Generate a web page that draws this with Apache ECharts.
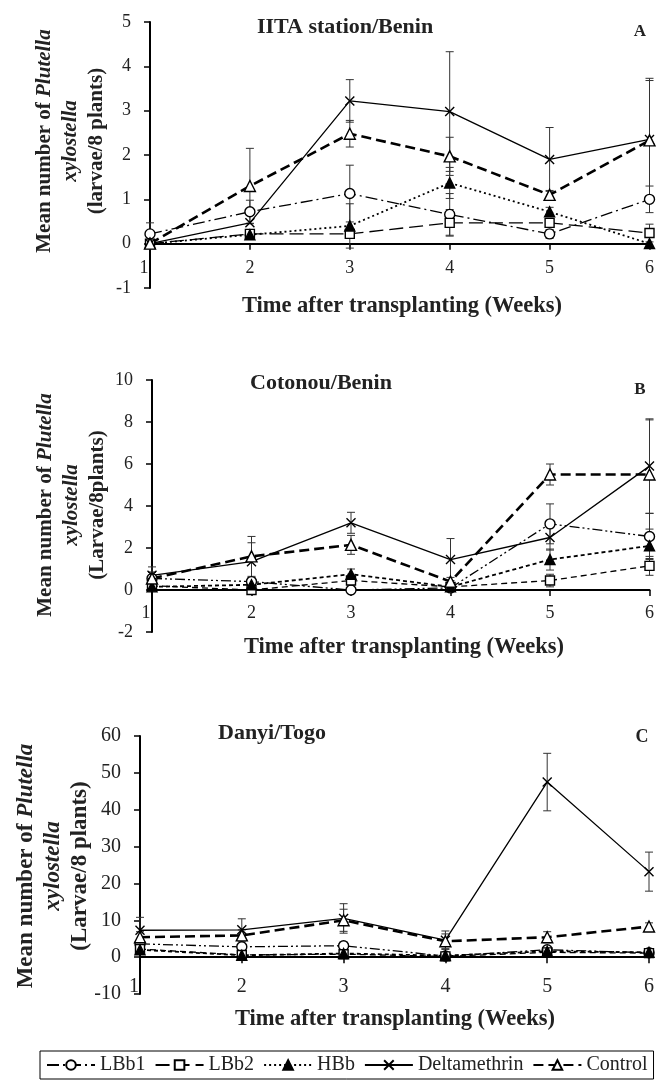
<!DOCTYPE html>
<html>
<head>
<meta charset="utf-8">
<script src="https://cdn.jsdelivr.net/npm/echarts@6/dist/echarts.min.js"></script>
<style>
  html, body { margin: 0; padding: 0; background: #fff; }
  #chart { width: 657px; height: 1080px; }
</style>
</head>
<body>
<div id="chart"></div>
<script>
// weeks after transplanting
const weeks = [1, 2, 3, 4, 5, 6];
const seriesNames = ['LBb1', 'LBb2', 'HBb', 'Deltamethrin', 'Control'];

// Panel A - IITA station/Benin (mean larvae / 8 plants)
const lbb1A = [0.22, 0.72, 1.13, 0.66, 0.22, 1.0];
const lbb2A = [0.0, 0.22, 0.22, 0.47, 0.47, 0.24];
const hbbA = [0.0, 0.2, 0.4, 1.37, 0.72, 0.0];
const deltaA = [0.0, 0.47, 3.22, 2.98, 1.9, 2.35];
const controlA = [0.0, 1.3, 2.48, 1.97, 1.1, 2.33];
// error bars (+/-)
const errLbb1A = [0.25, 0.26, 0.64, 0.47, 0.1, 0.3];
const errLbb2A = [0, 0, 0.1, 0.3, 0.1, 0.2];
const errHbbA = [0, 0, 0.5, 0.35, 0.1, 0];
const errDeltaA = [0, 0, 0.48, 1.35, 0.72, 1.38];
const errControlA = [0, 0.85, 0.3, 0.43, 0.1, 1.35];

// Panel B - Cotonou/Benin
const lbb1B = [0.55, 0.4, 0.0, 0.1, 3.15, 2.55];
const lbb2B = [0.2, 0.0, 0.45, 0.15, 0.45, 1.15];
const hbbB = [0.15, 0.25, 0.75, 0.15, 1.45, 2.1];
const deltaB = [0.7, 1.35, 3.2, 1.45, 2.5, 5.9];
const controlB = [0.55, 1.6, 2.15, 0.4, 5.5, 5.5];
const errLbb1B = [0.3, 0.2, 0, 0.1, 0.95, 1.1];
const errLbb2B = [0.1, 0.1, 0.2, 0.1, 0.3, 0.45];
const errHbbB = [0.1, 0.1, 0.25, 0.1, 0.5, 0.6];
const errDeltaB = [0.4, 0.9, 0.5, 1.0, 0.6, 2.25];
const errControlB = [0.3, 0.95, 0.45, 0.2, 0.5, 2.6];

// Panel C - Danyi/Togo
const lbb1C = [3.6, 2.8, 3.1, 0.3, 2.0, 1.2];
const lbb2C = [2.2, 0.6, 0.8, 0.2, 1.3, 1.1];
const hbbC = [2.0, 0.5, 1.0, 0.4, 1.6, 1.3];
const deltaC = [7.3, 7.4, 10.5, 4.6, 47.5, 23.2];
const controlC = [5.4, 5.9, 10.0, 4.3, 5.4, 8.3];
const errLbb1C = [1.0, 0.8, 1.0, 0.3, 0.7, 0.4];
const errLbb2C = [0.5, 0.3, 0.4, 0.2, 0.4, 0.3];
const errHbbC = [0.5, 0.3, 0.4, 0.2, 0.4, 0.3];
const errDeltaC = [3.5, 3.0, 4.0, 2.5, 7.8, 5.3];
const errControlC = [1.5, 1.5, 3.0, 2.0, 1.5, 1.0];

// y axis ranges
const yRangeA = { min: -1, max: 5, interval: 1 };
const yRangeB = { min: -2, max: 10, interval: 2 };
const yRangeC = { min: -10, max: 60, interval: 10 };

const SERIF = '"Liberation Serif", "Times New Roman", serif';
const CROSS = 'path://M0,0L10,10M10,0L0,10';

// marker + line look per treatment
const markers = {
  LBb1: { symbol: 'circle', size: 10, fill: '#fff' },
  LBb2: { symbol: 'rect', size: 9, fill: '#fff' },
  HBb: { symbol: 'triangle', size: 10, fill: '#000' },
  Deltamethrin: { symbol: CROSS, size: 9, fill: 'none' },
  Control: { symbol: 'triangle', size: 11, fill: '#fff' }
};
const dashA = { LBb1: [12, 4, 2, 4], LBb2: [14, 6], HBb: [2, 3], Deltamethrin: 'solid', Control: [10, 5] };
const dashBC = { LBb1: [10, 3, 2, 3, 2, 3], LBb2: [6, 4], HBb: [4, 3], Deltamethrin: 'solid', Control: [10, 5] };
const widths = { LBb1: 1.3, LBb2: 1.3, HBb: 1.8, Deltamethrin: 1.3, Control: 2.6 };

function pairs(vals) {
  return weeks.map((w, i) => [w, vals[i]]);
}

function lineSeries(name, vals, idx, dash) {
  const m = markers[name];
  return {
    name: name,
    type: 'line',
    xAxisIndex: idx,
    yAxisIndex: idx,
    data: pairs(vals),
    symbol: m.symbol,
    symbolSize: m.size,
    showAllSymbol: true,
    clip: false,
    z: 3,
    lineStyle: { color: '#000', width: widths[name], type: dash[name] },
    itemStyle: { color: m.fill, borderColor: '#000', borderWidth: 1.4 },
    emphasis: { disabled: true }
  };
}

function errorSeries(idx, groups) {
  const data = [];
  groups.forEach(([vals, errs]) => {
    weeks.forEach((w, i) => {
      if (errs[i] > 0) data.push([w, vals[i] - errs[i], vals[i] + errs[i]]);
    });
  });
  return {
    type: 'custom',
    xAxisIndex: idx,
    yAxisIndex: idx,
    z: 2,
    silent: true,
    data: data,
    renderItem: function (params, api) {
      const top = api.coord([api.value(0), api.value(2)]);
      const bot = api.coord([api.value(0), api.value(1)]);
      const cap = 4;
      const st = { stroke: '#333', lineWidth: 1 };
      return {
        type: 'group',
        children: [
          { type: 'line', shape: { x1: top[0], y1: top[1], x2: bot[0], y2: bot[1] }, style: st },
          { type: 'line', shape: { x1: top[0] - cap, y1: top[1], x2: top[0] + cap, y2: top[1] }, style: st },
          { type: 'line', shape: { x1: bot[0] - cap, y1: bot[1], x2: bot[0] + cap, y2: bot[1] }, style: st }
        ]
      };
    }
  };
}

// labels sit just under the zero line, so pull them up from the grid bottom;
// the first week label is nudged left of the y axis line like in the original
function xAxisFor(idx, fs, margin) {
  return {
    type: 'value', gridIndex: idx, min: 1, max: 6, interval: 1,
    axisLine: { onZero: true, lineStyle: { color: '#000', width: 2 } },
    axisTick: { show: true, length: 6, lineStyle: { color: '#000', width: 1.5 } },
    axisLabel: {
      color: '#222', fontFamily: SERIF, fontSize: fs, margin: margin,
      showMinLabel: true, hideOverlap: false,
      formatter: v => (v === 1 ? '{one|1}' : String(v)),
      rich: { one: { fontFamily: SERIF, fontSize: fs, color: '#222', padding: [0, 12, 0, 0] } }
    },
    splitLine: { show: false }
  };
}

function yAxisFor(idx, range, fs) {
  return {
    type: 'value', gridIndex: idx, min: range.min, max: range.max, interval: range.interval,
    axisLine: { show: true, onZero: false, lineStyle: { color: '#000', width: 2 } },
    axisTick: { show: true, length: 6, lineStyle: { color: '#000', width: 1.5 } },
    axisLabel: { color: '#222', fontFamily: SERIF, fontSize: fs, margin: 19 },
    splitLine: { show: false }
  };
}

function text(x, y, str, size, extra) {
  return Object.assign({
    type: 'text', x: x, y: y,
    style: {
      text: str, fill: '#222', fontFamily: SERIF, fontSize: size, fontWeight: 'bold',
      align: 'center', verticalAlign: 'middle'
    }
  }, extra || {});
}

function yTitle(x, y, unit, size, lh) {
  return {
    type: 'text', x: x, y: y, rotation: Math.PI / 2,
    style: {
      text: '{b|Mean number of }{bi|Plutella}\n{bi|xylostella}\n{b|' + unit + '}',
      fill: '#222', align: 'center', verticalAlign: 'middle',
      rich: {
        b: { fontFamily: SERIF, fontSize: size, fontWeight: 'bold', lineHeight: lh, fill: '#222' },
        bi: { fontFamily: SERIF, fontSize: size, fontWeight: 'bold', fontStyle: 'italic', lineHeight: lh, fill: '#222' }
      }
    }
  };
}

const series = [];
const panels = [
  [lbb1A, lbb2A, hbbA, deltaA, controlA],
  [lbb1B, lbb2B, hbbB, deltaB, controlB],
  [lbb1C, lbb2C, hbbC, deltaC, controlC]
];
panels.forEach((vals, idx) => {
  const dash = idx === 0 ? dashA : dashBC;
  seriesNames.forEach((n, k) => series.push(lineSeries(n, vals[k], idx, dash)));
});
series.push(errorSeries(0, [[lbb1A, errLbb1A], [lbb2A, errLbb2A], [hbbA, errHbbA], [deltaA, errDeltaA], [controlA, errControlA]]));
series.push(errorSeries(1, [[lbb1B, errLbb1B], [lbb2B, errLbb2B], [hbbB, errHbbB], [deltaB, errDeltaB], [controlB, errControlB]]));
series.push(errorSeries(2, [[lbb1C, errLbb1C], [lbb2C, errLbb2C], [hbbC, errHbbC], [deltaC, errDeltaC], [controlC, errControlC]]));

const chart = echarts.init(document.getElementById('chart'), null, { renderer: 'canvas' });
chart.setOption({
  backgroundColor: '#fff',
  animation: false,
  grid: [
    { left: 150, top: 22, width: 500, height: 266 },
    { left: 152, top: 380, width: 501, height: 252 },
    { left: 140, top: 736, width: 510, height: 258 }
  ],
  xAxis: [xAxisFor(0, 18, -29), xAxisFor(1, 18, -28), xAxisFor(2, 20, -17)],
  yAxis: [yAxisFor(0, yRangeA, 18), yAxisFor(1, yRangeB, 18), yAxisFor(2, yRangeC, 20)],
  legend: {
    data: seriesNames,
    left: 40, top: 1051,
    itemWidth: 48, itemHeight: 12, itemGap: 9,
    padding: [4, 6, 4, 6],
    borderColor: '#000', borderWidth: 1,
    textStyle: { fontFamily: SERIF, fontSize: 20, color: '#222' },
    selectedMode: false
  },
  graphic: [
    // panel A
    text(345, 27, 'IITA station/Benin', 22),
    text(640, 32, 'A', 17),
    yTitle(71, 141, '(larvae/8 plants)', 21, 26),
    text(402, 306, 'Time after transplanting (Weeks)', 22.5),
    // panel B
    text(321, 383, 'Cotonou/Benin', 22),
    text(640, 390, 'B', 17),
    yTitle(72, 505, '(Larvae/8plants)', 21, 26),
    text(404, 647, 'Time after transplanting (Weeks)', 22.5),
    // panel C
    text(272, 733, 'Danyi/Togo', 22),
    text(642, 737, 'C', 18),
    yTitle(53, 866, '(Larvae/8 plants)', 23, 27),
    text(395, 1019, 'Time after transplanting (Weeks)', 22.5)
  ],
  series: series
});
</script>
</body>
</html>
